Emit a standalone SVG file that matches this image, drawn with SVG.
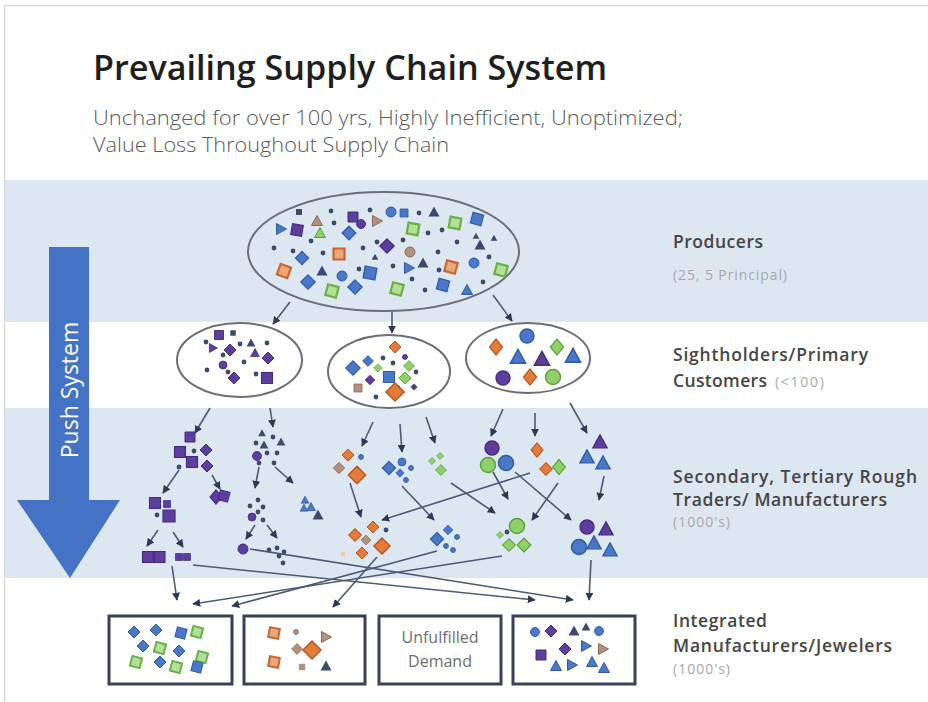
<svg xmlns="http://www.w3.org/2000/svg" xmlns:xlink="http://www.w3.org/1999/xlink" width="928" height="702" viewBox="0 0 928 702">
<style>
.nv{fill:#3c4a6e}
.pu{fill:#5d3e9f;stroke:#432c7c;stroke-width:1}
.bl{fill:#4a78c9;stroke:#2f5ba6;stroke-width:1}
.or{fill:#e37b3a;stroke:#b7561f;stroke-width:1}
.os{fill:#eaa77a;stroke:#c7662e;stroke-width:2}
.gr{fill:#8fd06b;stroke:#5aa23c;stroke-width:1}
.gs{fill:#b3df97;stroke:#67b04a;stroke-width:2}
.br{fill:#b48f7c;stroke:#8c6a5a;stroke-width:1}
.lt{fill:#f3c9a8}
.band{fill:#dde7f2}
.ell{stroke:#6b6e78;stroke-width:2}
.box{fill:#fff;stroke:#3b4059;stroke-width:3}
.cn line{stroke:#4b5a78;stroke-width:1.6;marker-end:url(#ah)}
.lab{font-family:"Open Sans","Liberation Sans",sans-serif;font-weight:600;font-size:17.5px;fill:#454545}
.sm{font-family:"Open Sans","Liberation Sans",sans-serif;font-weight:400;font-size:14px;fill:#a8a8a8}
</style>
<defs>
<marker id="ah" viewBox="0 0 10 10" refX="9" refY="5" markerWidth="5" markerHeight="5" orient="auto"><path d="M0,0 L10,5 L0,10z" fill="#2e3a55"/></marker>
<path id="s" d="M-5-5h10v10h-10z"/>
<path id="d" d="M0-6 6 0 0 6-6 0z"/>
<path id="t" d="M0-5.5 5.5 4.5h-11z"/>
<path id="r" d="M-4.5-5.5 5.5 0-4.5 5.5z"/>
<circle id="c" r="5"/>
<circle id="o" r="2.4"/>
</defs>
<rect x="0" y="0" width="928" height="702" fill="#fff"/>
<rect class="band" x="5" y="180" width="923" height="142"/>
<rect class="band" x="5" y="408" width="923" height="170"/>
<rect x="4.5" y="5.5" width="930" height="700" fill="none" stroke="#d9d9d9" stroke-width="1.5"/>

<g id="title">
<text x="93" y="80" font-family="'Open Sans','Liberation Sans',sans-serif" font-weight="600" font-size="34" fill="#1e1e1e" textLength="514" lengthAdjust="spacingAndGlyphs">Prevailing Supply Chain System</text>
<text x="93" y="125" font-family="'Open Sans','Liberation Sans',sans-serif" font-weight="300" font-size="21" fill="#5a5a5a" textLength="590" lengthAdjust="spacingAndGlyphs">Unchanged for over 100 yrs, Highly Inefficient, Unoptimized;</text>
<text x="93" y="152" font-family="'Open Sans','Liberation Sans',sans-serif" font-weight="300" font-size="21" fill="#5a5a5a" textLength="356" lengthAdjust="spacingAndGlyphs">Value Loss Throughout Supply Chain</text>
</g>

<g id="push-arrow">
<polygon points="49,247 89,247 89,500 120,500 70,578 17,500 49,500" fill="#4472c4"/>
<text transform="translate(78 390) rotate(-90)" text-anchor="middle" font-family="'Open Sans','Liberation Sans',sans-serif" font-size="23" fill="#fff">Push System</text>
</g>

<g id="labels">
<text class="lab" x="673" y="248" textLength="90">Producers</text>
<text class="sm" x="673" y="280" textLength="114">(25, 5 Principal)</text>
<text class="lab" x="673" y="361" textLength="195">Sightholders/Primary</text>
<text class="lab" x="673" y="387" textLength="94">Customers</text>
<text class="sm" x="775" y="387" textLength="49">(&lt;100)</text>
<text class="lab" x="673" y="483" textLength="244">Secondary, Tertiary Rough</text>
<text class="lab" x="673" y="506" textLength="214">Traders/ Manufacturers</text>
<text class="sm" x="673" y="527" textLength="57">(1000's)</text>
<text class="lab" x="673" y="627" textLength="94">Integrated</text>
<text class="lab" x="673" y="652" textLength="219">Manufacturers/Jewelers</text>
<text class="sm" x="673" y="674" textLength="57">(1000's)</text>
</g>

<g id="producers">
<ellipse class="ell" cx="383.5" cy="251.5" rx="135.5" ry="59.5" fill="#dde7f2"/>
<use href="#s" transform="translate(299 212) scale(.6)" class="nv"/>
<use href="#o" x="331" y="211" class="nv"/>
<use href="#t" x="317" y="221" class="br"/>
<use href="#o" x="334" y="223" class="nv"/>
<use href="#s" x="353" y="217" class="pu"/>
<use href="#c" transform="translate(361 224) scale(.9)" class="pu"/>
<use href="#r" x="377" y="221" class="br"/>
<use href="#o" x="370" y="210" class="nv"/>
<use href="#c" x="391" y="212" class="bl"/>
<use href="#s" transform="translate(404 213) scale(.8)" class="bl"/>
<use href="#o" x="419" y="213" class="nv"/>
<use href="#t" x="434" y="212" class="nv"/>
<use href="#r" x="281" y="229" class="bl"/>
<use href="#s" transform="translate(297 230) rotate(10) scale(1.1)" class="pu"/>
<use href="#t" x="320" y="233" class="gr"/>
<use href="#d" transform="translate(349 233) scale(1.15)" class="bl"/>
<use href="#s" transform="translate(413 229) rotate(10) scale(1.1)" class="gs"/>
<use href="#o" x="428" y="233" class="nv"/>
<use href="#o" x="442" y="230" class="nv"/>
<use href="#s" transform="translate(455 223) rotate(10) scale(1.1)" class="gs"/>
<use href="#s" transform="translate(477 219) rotate(15) scale(1.1)" class="bl"/>
<use href="#o" x="274" y="248" class="nv"/>
<use href="#o" x="311" y="241" class="nv"/>
<use href="#o" x="293" y="251" class="nv"/>
<use href="#d" transform="translate(302 258) scale(1.1)" class="bl"/>
<use href="#o" x="323" y="253" class="nv"/>
<use href="#s" transform="translate(339 254) scale(1.1)" class="os"/>
<use href="#o" x="363" y="248" class="nv"/>
<use href="#o" x="377" y="242" class="nv"/>
<use href="#d" transform="translate(387 246) scale(1.2)" class="pu"/>
<use href="#o" x="403" y="240" class="nv"/>
<use href="#c" x="410" y="252" class="br"/>
<use href="#t" transform="translate(375 257) scale(.6)" class="nv"/>
<use href="#o" x="438" y="252" class="nv"/>
<use href="#o" x="457" y="242" class="nv"/>
<use href="#t" x="480" y="245" class="nv"/>
<use href="#t" transform="translate(476 236) scale(.6)" class="nv"/>
<use href="#t" transform="translate(494 238) scale(.6)" class="nv"/>
<use href="#o" x="489" y="257" class="nv"/>
<use href="#s" transform="translate(284 271) rotate(20) scale(1.1)" class="os"/>
<use href="#t" x="322" y="271" class="nv"/>
<use href="#c" x="342" y="276" class="bl"/>
<use href="#o" x="359" y="269" class="nv"/>
<use href="#s" transform="translate(370 273) rotate(10) scale(1.2)" class="bl"/>
<use href="#o" x="393" y="266" class="nv"/>
<use href="#r" x="409" y="268" class="bl"/>
<use href="#t" x="423" y="263" class="nv"/>
<use href="#o" x="412" y="279" class="nv"/>
<use href="#o" x="439" y="270" class="nv"/>
<use href="#s" transform="translate(451 267) rotate(15) scale(1.1)" class="os"/>
<use href="#c" x="474" y="263" class="bl"/>
<use href="#s" transform="translate(501 270) rotate(15) scale(1.1)" class="gs"/>
<use href="#d" transform="translate(308 282) scale(1.2)" class="bl"/>
<use href="#s" transform="translate(332 291) rotate(15) scale(1.1)" class="gs"/>
<use href="#d" transform="translate(355 287) scale(1.2)" class="bl"/>
<use href="#s" transform="translate(397 289) rotate(15) scale(1.1)" class="gs"/>
<use href="#o" x="425" y="290" class="nv"/>
<use href="#s" transform="translate(443 285) rotate(15) scale(1.1)" class="bl"/>
<use href="#t" x="467" y="290" class="bl"/>
<use href="#o" x="483" y="282" class="nv"/>
</g>

<g id="sightholder-1">
<ellipse class="ell" cx="239.5" cy="360" rx="62.5" ry="37" fill="#fff"/>
<use href="#s" transform="translate(219 335) scale(.9)" class="pu"/>
<use href="#s" transform="translate(233 333) scale(.55)" class="nv"/>
<use href="#o" x="206" y="342" class="nv"/>
<use href="#r" transform="translate(213 348) scale(.8)" class="pu"/>
<use href="#d" x="230" y="350" class="pu"/>
<use href="#o" x="240" y="344" class="nv"/>
<use href="#t" transform="translate(251 343) scale(.8)" class="nv"/>
<use href="#o" x="267" y="343" class="nv"/>
<use href="#t" transform="translate(255 353) scale(.8)" class="pu"/>
<use href="#d" x="268" y="358" class="pu"/>
<use href="#o" x="223" y="355" class="nv"/>
<use href="#o" x="244" y="362" class="nv"/>
<use href="#c" transform="translate(223 365) scale(.8)" class="pu"/>
<use href="#o" x="207" y="370" class="nv"/>
<use href="#o" x="228" y="372" class="nv"/>
<use href="#d" x="234" y="378" class="pu"/>
<use href="#o" x="256" y="374" class="nv"/>
<use href="#s" transform="translate(267 378) scale(1.1)" class="pu"/>
</g>

<g id="sightholder-2">
<ellipse class="ell" cx="389" cy="371.5" rx="61" ry="36.5" fill="#fff"/>
<use href="#d" x="395" y="347" class="or"/>
<use href="#o" x="405" y="357" class="pu"/>
<use href="#d" transform="translate(353 368) scale(1.2)" class="bl"/>
<use href="#d" transform="translate(368 361) scale(.9)" class="bl"/>
<use href="#d" transform="translate(378 368) scale(.7)" class="gr"/>
<use href="#o" x="383" y="358" class="nv"/>
<use href="#o" x="393" y="363" class="nv"/>
<use href="#s" transform="translate(389 377) scale(1.1)" class="bl"/>
<use href="#d" transform="translate(409 366) scale(.9)" class="gr"/>
<use href="#d" x="405" y="378" class="gr"/>
<use href="#o" x="416" y="372" class="nv"/>
<use href="#d" transform="translate(370 380) scale(.8)" class="pu"/>
<use href="#s" transform="translate(358 388) scale(.8)" class="br"/>
<use href="#o" x="398" y="388" class="nv"/>
<use href="#d" transform="translate(395 392) scale(1.5)" class="or"/>
<use href="#o" x="376" y="397" class="nv"/>
<use href="#d" transform="translate(414 387) scale(.6)" class="nv"/>
</g>

<g id="sightholder-3">
<ellipse class="ell" cx="528" cy="358" rx="62" ry="35" fill="#fff"/>
<use href="#c" transform="translate(527 336) scale(1.4)" class="bl"/>
<use href="#d" transform="translate(496 347) scale(1.1 1.35)" class="or"/>
<use href="#d" transform="translate(557 347) scale(1.1 1.35)" class="gr"/>
<use href="#t" transform="translate(518 357) scale(1.4)" class="bl"/>
<use href="#t" transform="translate(542 359) scale(1.4)" class="pu"/>
<use href="#t" transform="translate(573 356) scale(1.4)" class="bl"/>
<use href="#c" transform="translate(503 378) scale(1.4)" class="pu"/>
<use href="#d" transform="translate(530 377) scale(1.1 1.35)" class="or"/>
<use href="#c" transform="translate(553 377) scale(1.5)" class="gr"/>
</g>

<g id="traders">
<use href="#s" x="190" y="437" class="pu"/>
<use href="#s" transform="translate(180 452) scale(1.1)" class="pu"/>
<use href="#o" x="194" y="451" class="nv"/>
<use href="#d" x="206" y="450" class="pu"/>
<use href="#s" transform="translate(192 462) scale(1.1)" class="pu"/>
<use href="#d" x="207" y="466" class="pu"/>
<use href="#o" x="179" y="467" class="nv"/>
<use href="#d" transform="translate(216 497) scale(1 1.2)" class="pu"/>
<use href="#s" transform="translate(224 496) rotate(15)" class="pu"/>
<use href="#s" transform="translate(155 503) scale(1.1)" class="pu"/>
<use href="#s" transform="translate(167 504) scale(.7)" class="pu"/>
<use href="#o" x="157" y="515" class="nv"/>
<use href="#s" transform="translate(169 516) scale(1.2)" class="pu"/>
<use href="#s" transform="translate(148 557) scale(1.1)" class="pu"/>
<use href="#s" transform="translate(159.5 557) scale(1.1)" class="pu"/>
<use href="#s" transform="translate(179 557) scale(.7)" class="pu"/>
<use href="#s" transform="translate(187 557) scale(.7)" class="pu"/>

<use href="#t" transform="translate(262 433) scale(.7)" class="nv"/>
<use href="#o" x="273" y="437" class="nv"/>
<use href="#t" transform="translate(281 442) scale(.8)" class="nv"/>
<use href="#o" x="256" y="443" class="nv"/>
<use href="#t" transform="translate(264 445) scale(.8)" class="nv"/>
<use href="#c" transform="translate(257 456) scale(.9)" class="pu"/>
<use href="#o" x="267" y="453" class="nv"/>
<use href="#o" x="277" y="453" class="nv"/>
<use href="#o" x="259" y="463" class="nv"/>
<use href="#o" x="274" y="463" class="nv"/>
<use href="#t" transform="translate(305 500) scale(.7)" class="bl"/>
<use href="#t" transform="translate(311 507) scale(.8)" class="bl"/>
<use href="#t" transform="translate(318 515) scale(1)" class="nv"/>
<use href="#t" transform="translate(304 508) scale(.7)" class="bl"/>
<use href="#o" x="258" y="500" class="nv"/>
<use href="#o" x="250" y="506" class="nv"/>
<use href="#o" x="263" y="507" class="nv"/>
<use href="#o" x="258" y="512" class="nv"/>
<use href="#c" transform="translate(252 517) scale(.8)" class="pu"/>
<use href="#o" x="263" y="520" class="nv"/>
<use href="#c" x="243" y="549" class="pu"/>
<use href="#o" x="269" y="550" class="nv"/>
<use href="#o" x="277" y="548" class="nv"/>
<use href="#o" x="284" y="552" class="nv"/>
<use href="#o" x="279" y="556" class="nv"/>
<use href="#o" x="283" y="563" class="nv"/>

<use href="#d" x="348" y="455" class="or"/>
<use href="#o" x="361" y="457" class="bl"/>
<use href="#s" transform="translate(339 468) rotate(45) scale(.8)" class="br"/>
<use href="#d" transform="translate(357 475) scale(1.45)" class="or"/>

<use href="#d" x="373" y="527" class="or"/>
<use href="#o" x="386" y="530" class="nv"/>
<use href="#d" transform="translate(355 535) scale(1.05)" class="or"/>
<use href="#s" transform="translate(366 540) rotate(45) scale(.7)" class="br"/>
<use href="#d" transform="translate(382 546) scale(1.35)" class="or"/>
<use href="#d" x="362" y="553" class="or"/>
<use href="#o" x="343" y="554" class="lt"/>

<use href="#d" transform="translate(389 468) scale(1.1)" class="bl"/>
<use href="#c" transform="translate(402 462) scale(.8)" class="bl"/>
<use href="#o" x="411" y="468" class="bl"/>
<use href="#d" transform="translate(400 473) scale(.7)" class="bl"/>
<use href="#o" x="406" y="480" class="bl"/>

<use href="#d" transform="translate(437 539) scale(1.1)" class="bl"/>
<use href="#d" transform="translate(448 530) scale(.8)" class="bl"/>
<use href="#o" x="457" y="537" class="bl"/>
<use href="#o" x="446" y="546" class="bl"/>
<use href="#o" x="453" y="550" class="bl"/>

<use href="#d" transform="translate(432 461) scale(.6)" class="gr"/>
<use href="#d" transform="translate(440 456) scale(.6)" class="gr"/>
<use href="#d" transform="translate(441 470) scale(.9)" class="gr"/>

<use href="#d" transform="translate(500 535) scale(.6)" class="gr"/>
<use href="#o" x="507" y="532" class="nv"/>
<use href="#c" transform="translate(517 526) scale(1.5)" class="gr"/>
<use href="#d" transform="translate(509 545) scale(1.05)" class="gr"/>
<use href="#d" transform="translate(524 545) scale(1.15)" class="gr"/>

<use href="#c" transform="translate(492 448) scale(1.4)" class="pu"/>
<use href="#c" transform="translate(488 465) scale(1.5)" class="gr"/>
<use href="#c" transform="translate(506 463) scale(1.5)" class="bl"/>

<use href="#d" transform="translate(537 450) scale(1 1.2)" class="or"/>
<use href="#d" transform="translate(546 469) scale(1.05)" class="or"/>
<use href="#d" transform="translate(559 467) scale(1.05 1.25)" class="gr"/>

<use href="#t" transform="translate(600 442) scale(1.3)" class="pu"/>
<use href="#t" transform="translate(587 457) scale(1.3)" class="bl"/>
<use href="#t" transform="translate(603 463) scale(1.3)" class="bl"/>

<use href="#c" transform="translate(587 527) scale(1.4)" class="pu"/>
<use href="#t" transform="translate(606 529) scale(1.3)" class="pu"/>
<use href="#c" transform="translate(579 547) scale(1.5)" class="bl"/>
<use href="#t" transform="translate(594 543) scale(1.3)" class="bl"/>
<use href="#t" transform="translate(610 550) scale(1.3)" class="bl"/>
</g>

<g id="jeweler-1">
<rect class="box" x="109" y="616" width="123" height="68"/>
<use href="#d" x="134" y="632" class="bl"/>
<use href="#d" x="156" y="630" class="bl"/>
<use href="#s" transform="translate(181 633) rotate(15)" class="bl"/>
<use href="#s" transform="translate(197 632) rotate(15)" class="gs"/>
<use href="#d" x="143" y="646" class="bl"/>
<use href="#s" transform="translate(160 648) rotate(15)" class="gs"/>
<use href="#d" x="179" y="651" class="bl"/>
<use href="#s" transform="translate(202 657) rotate(15)" class="gs"/>
<use href="#s" transform="translate(136 662) rotate(15)" class="gs"/>
<use href="#d" x="160" y="662" class="bl"/>
<use href="#s" transform="translate(176 667) rotate(15)" class="gs"/>
<use href="#s" transform="translate(197 667) rotate(15)" class="bl"/>
</g>

<g id="jeweler-2">
<rect class="box" x="244" y="616" width="121" height="68"/>
<use href="#s" transform="translate(274 633) rotate(10)" class="os"/>
<use href="#o" x="296" y="632" class="br"/>
<use href="#r" x="326" y="637" class="br"/>
<use href="#d" transform="translate(297 649) scale(.9)" class="br"/>
<use href="#d" transform="translate(312 650) scale(1.5)" class="or"/>
<use href="#s" transform="translate(274 662) rotate(10)" class="os"/>
<use href="#s" transform="translate(302 667) scale(.55)" class="br"/>
<use href="#t" x="326" y="666" class="nv"/>
</g>

<g id="unfulfilled">
<rect class="box" x="379" y="616" width="122" height="68"/>
<text x="440" y="643" text-anchor="middle" font-family="'Open Sans','Liberation Sans',sans-serif" font-size="16" fill="#6e6e6e">Unfulfilled</text>
<text x="440" y="667" text-anchor="middle" font-family="'Open Sans','Liberation Sans',sans-serif" font-size="16" fill="#6e6e6e">Demand</text>
</g>

<g id="jeweler-4">
<rect class="box" x="513" y="616" width="122" height="68"/>
<use href="#c" transform="translate(535 632) scale(.9)" class="bl"/>
<use href="#d" x="551" y="631" class="pu"/>
<use href="#t" x="574" y="631" class="nv"/>
<use href="#t" transform="translate(586 627) scale(.8)" class="nv"/>
<use href="#c" transform="translate(599 631) scale(.9)" class="bl"/>
<use href="#s" x="541" y="655" class="pu"/>
<use href="#d" x="565" y="649" class="pu"/>
<use href="#r" x="586" y="646" class="bl"/>
<use href="#r" x="603" y="649" class="br"/>
<use href="#t" x="556" y="666" class="bl"/>
<use href="#r" x="572" y="665" class="bl"/>
<use href="#t" x="592" y="662" class="bl"/>
<use href="#t" x="604" y="668" class="bl"/>
</g>

<g id="connectors" class="cn">
<line x1="290" y1="302" x2="273" y2="324"/>
<line x1="392" y1="312" x2="392" y2="333"/>
<line x1="493" y1="295" x2="512" y2="321"/>
<line x1="210" y1="408" x2="195" y2="433"/>
<line x1="270" y1="408" x2="273" y2="427"/>
<line x1="373" y1="422" x2="362" y2="446"/>
<line x1="400" y1="424" x2="402" y2="452"/>
<line x1="426" y1="417" x2="435" y2="443"/>
<line x1="503" y1="409" x2="491" y2="436"/>
<line x1="535" y1="413" x2="535" y2="436"/>
<line x1="570" y1="403" x2="587" y2="433"/>
<line x1="179" y1="470" x2="163" y2="493"/>
<line x1="212" y1="475" x2="220" y2="489"/>
<line x1="158" y1="530" x2="147" y2="546"/>
<line x1="173" y1="532" x2="183" y2="547"/>
<line x1="259" y1="467" x2="255" y2="488"/>
<line x1="275" y1="467" x2="293" y2="483"/>
<line x1="255" y1="525" x2="246" y2="539"/>
<line x1="267" y1="525" x2="277" y2="538"/>
<line x1="350" y1="483" x2="361" y2="517"/>
<line x1="402" y1="486" x2="434" y2="520"/>
<line x1="451" y1="483" x2="495" y2="513"/>
<line x1="493" y1="472" x2="508" y2="499"/>
<line x1="515" y1="472" x2="571" y2="520"/>
<line x1="530" y1="473" x2="382" y2="520"/>
<line x1="558" y1="483" x2="532" y2="520"/>
<line x1="604" y1="476" x2="599" y2="500"/>
<line x1="172" y1="566" x2="177" y2="600"/>
<line x1="502" y1="556" x2="193" y2="604"/>
<line x1="437" y1="551" x2="232" y2="606"/>
<line x1="377" y1="557" x2="333" y2="607"/>
<line x1="193" y1="565" x2="535" y2="600"/>
<line x1="250" y1="549" x2="573" y2="600"/>
<line x1="591" y1="560" x2="589" y2="600"/>
</g>
</svg>
